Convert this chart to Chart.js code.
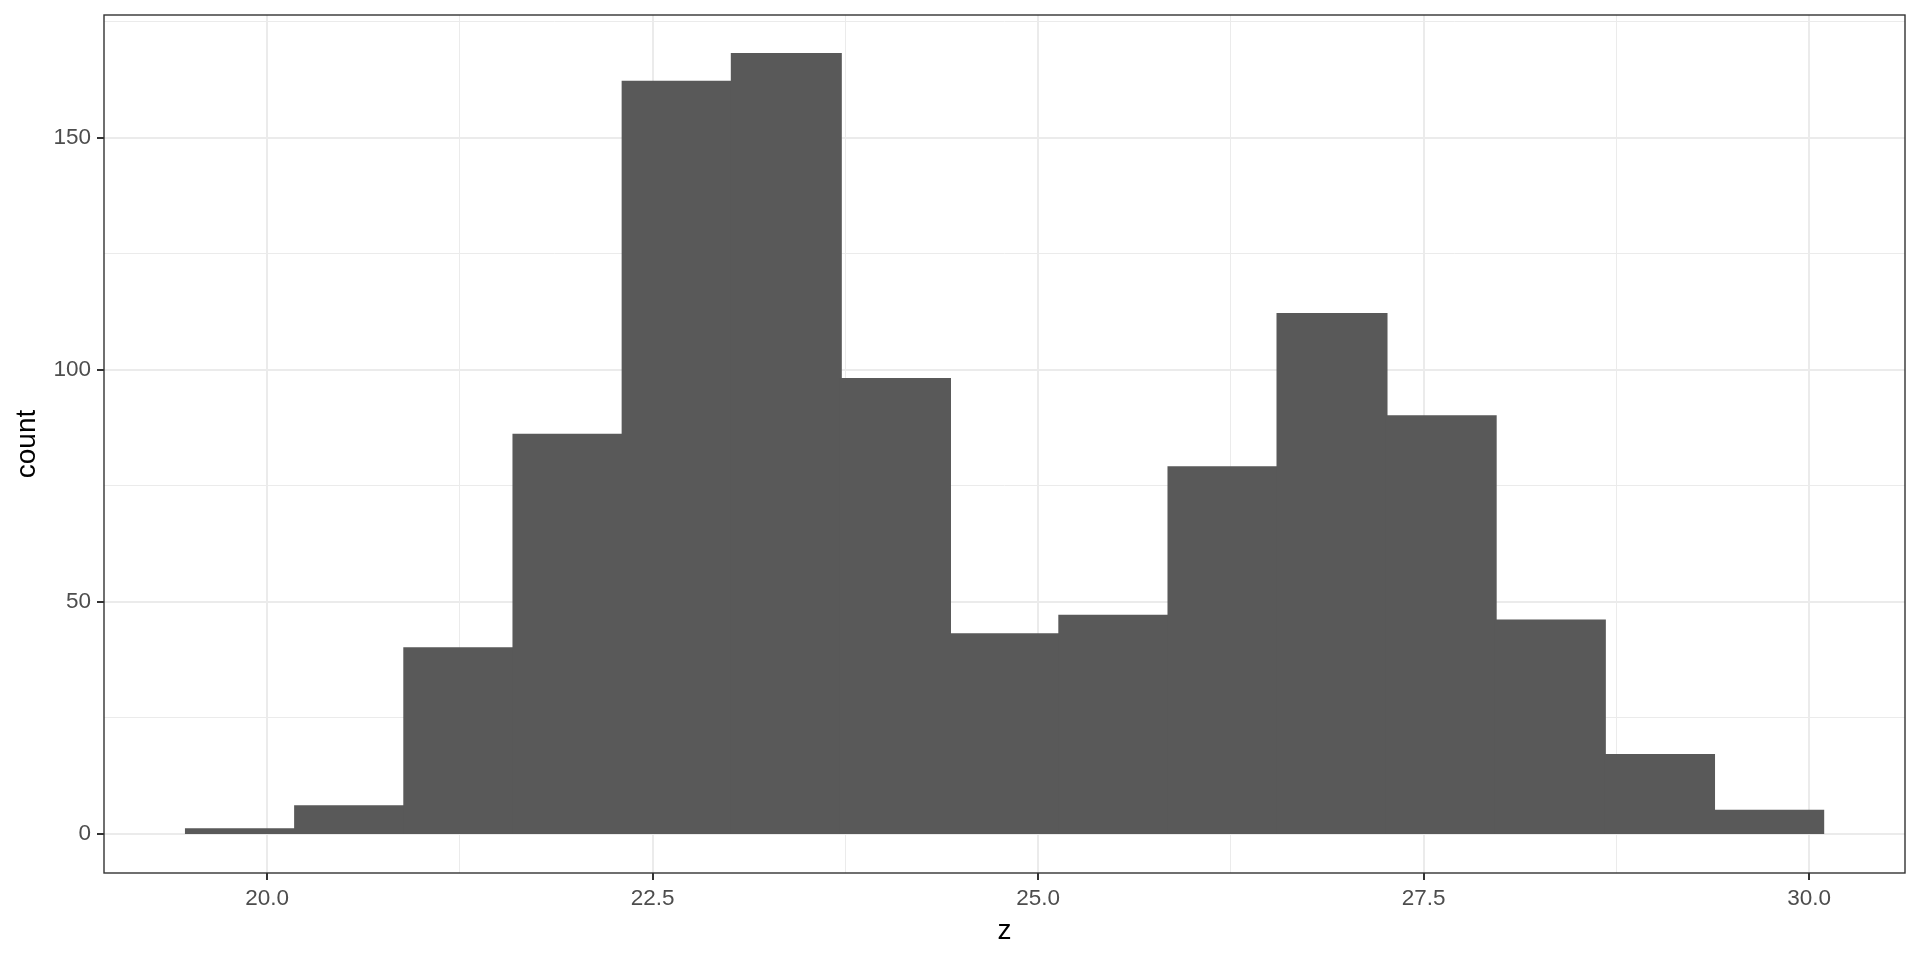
<!DOCTYPE html>
<html>
<head>
<meta charset="utf-8">
<script src="https://cdn.jsdelivr.net/npm/chart.js@4/dist/chart.umd.min.js"></script>
<style>
  html, body { margin: 0; padding: 0; background: #fff; }
  #hist { display: block; }
</style>
</head>
<body>
<canvas id="hist" width="1920" height="960"></canvas>
<script>
// histogram of z, 15 bins

const binCenters = [19.827, 20.535, 21.243, 21.951, 22.659, 23.367, 24.075, 24.783,
                    25.491, 26.199, 26.906, 27.614, 28.322, 29.030, 29.738];
const counts = [1, 6, 40, 86, 162, 168, 98, 43, 47, 79, 112, 90, 46, 17, 5];

const xMajor = [20, 22.5, 25, 27.5, 30];
const xLabels = ["20.0", "22.5", "25.0", "27.5", "30.0"];
const xMinor = [21.25, 23.75, 26.25, 28.75];

const yMajor = [0, 50, 100, 150];
const yLabels = ["0", "50", "100", "150"];
const yMinor = [25, 75, 125, 175];

const gridColor = "#EBEBEB";
const inkColor = "#333333";
const barColor = "#595959";

function isMajor(list, v) {
    return list.some(m => Math.abs(m - v) < 1e-6);
}

// panel border like theme_bw
const panelBorder = {
    id: "panelBorder",
    afterDraw(chart) {
        const a = chart.chartArea;
        const ctx = chart.ctx;
        ctx.save();
        ctx.strokeStyle = inkColor;
        ctx.lineWidth = 1.4;
        ctx.strokeRect(a.left, a.top, a.right - a.left, a.bottom - a.top);
        ctx.restore();
    }
};

new Chart(document.getElementById("hist"), {
    type: 'bar',
    data: {
        datasets: [
            {
                label: "count",
                backgroundColor: barColor,
                borderColor: barColor,
                borderWidth: 0,
                inflateAmount: 1,
                barPercentage: 1.0,
                categoryPercentage: 1.0,
                data: binCenters.map((x, i) => ({ x: x, y: counts[i] }))
            }
        ]
    },
    plugins: [panelBorder],
    options: {
        responsive: false,
        animation: false,
        layout: { padding: { top: 15, right: 15, left: 0, bottom: 0 } },
        plugins: {
            legend: { display: false },
            tooltip: { enabled: false },
            title: { display: false }
        },
        scales: {
            x: {
                type: 'linear',
                min: 18.942,
                max: 30.622,
                offset: false,
                afterBuildTicks: s => { s.ticks = xMajor.concat(xMinor).sort((a, b) => a - b).map(v => ({ value: v })); },
                afterFit: s => { s.height = 87; s.paddingLeft = 0; s.paddingRight = 0; },
                border: { display: false },
                grid: {
                    offset: false,
                    color: gridColor,
                    lineWidth: c => isMajor(xMajor, c.tick.value) ? 2 : 1,
                    tickColor: c => isMajor(xMajor, c.tick.value) ? inkColor : 'rgba(0,0,0,0)',
                    tickWidth: 2,
                    tickLength: 7
                },
                ticks: {
                    autoSkip: false,
                    maxRotation: 0,
                    padding: 5,
                    color: "#4D4D4D",
                    font: { family: "Liberation Sans", size: 22.5 },
                    callback: v => {
                        const i = xMajor.findIndex(m => Math.abs(m - v) < 1e-6);
                        return i >= 0 ? xLabels[i] : "";
                    }
                },
                title: {
                    display: true,
                    text: "z",
                    color: "#000000",
                    font: { family: "Liberation Sans", size: 28 },
                    padding: { top: 0, bottom: 12 }
                }
            },
            y: {
                type: 'linear',
                min: -8.4,
                max: 176.4,
                afterBuildTicks: s => { s.ticks = yMajor.concat(yMinor).sort((a, b) => a - b).map(v => ({ value: v })); },
                afterFit: s => { s.width = 104; s.paddingTop = 0; s.paddingBottom = 0; },
                border: { display: false },
                grid: {
                    color: gridColor,
                    lineWidth: c => isMajor(yMajor, c.tick.value) ? 2 : 1,
                    tickColor: c => isMajor(yMajor, c.tick.value) ? inkColor : 'rgba(0,0,0,0)',
                    tickWidth: 2,
                    tickLength: 7
                },
                ticks: {
                    autoSkip: false,
                    padding: 6,
                    color: "#4D4D4D",
                    font: { family: "Liberation Sans", size: 22.5 },
                    callback: v => {
                        const i = yMajor.findIndex(m => Math.abs(m - v) < 1e-6);
                        return i >= 0 ? yLabels[i] : "";
                    }
                },
                title: {
                    display: true,
                    text: "count",
                    color: "#000000",
                    font: { family: "Liberation Sans", size: 28 },
                    padding: { top: 10, bottom: 0 }
                }
            }
        }
    }
});
</script>
</body>
</html>
